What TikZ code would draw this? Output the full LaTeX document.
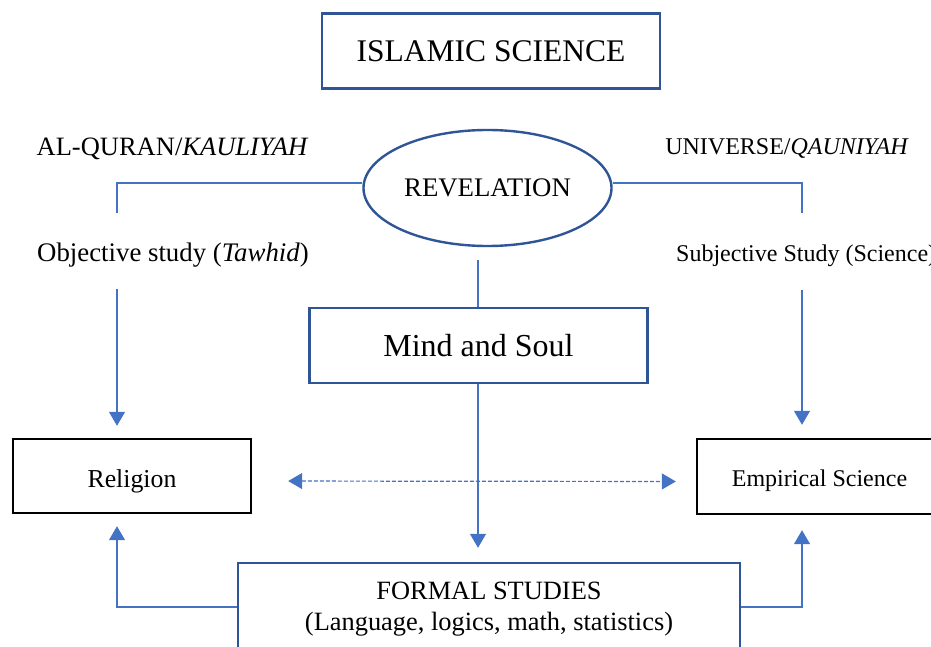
\documentclass[tikz,border=0pt]{standalone}
\usepackage{fontspec}
\setmainfont{Liberation Serif}
\usetikzlibrary{shapes.geometric,arrows.meta,calc}
\definecolor{lineblue}{HTML}{4472C4}
\definecolor{boxblue}{HTML}{2F5597}
\tikzset{
  bluebox/.style={draw=boxblue, line width=2.4pt, rectangle, inner sep=0pt, fill=white},
  blackbox/.style={draw=black, line width=2.4pt, rectangle, inner sep=0pt, fill=white},
  conn/.style={draw=lineblue, line width=1.2pt},
  tip/.style={-{Triangle[width=16pt,length=14pt]}},
  dconn/.style={draw=lineblue, line width=1.2pt, dash pattern=on 4pt off 2pt,
    {Triangle[width=16pt,length=14pt]}-{Triangle[width=16pt,length=14pt]}},
  lbl/.style={inner sep=0pt},
}
\begin{document}
\begin{tikzpicture}[x=1pt,y=-1pt]
\useasboundingbox (0,0) rectangle (931,647);
% boxes
\node[bluebox, minimum width=338pt, minimum height=75pt, font=\fontsize{31.5}{36}\selectfont] (isl) at (491,51) {ISLAMIC SCIENCE};
\node[draw=boxblue, line width=2.4pt, ellipse, inner sep=0pt, minimum width=248pt, minimum height=116pt, font=\fontsize{26.8}{31}\selectfont] (rev) at (487.5,188) {REVELATION};
\node[bluebox, minimum width=338pt, minimum height=75pt, font=\fontsize{32}{38}\selectfont] (mind) at (478.5,345.5) {Mind and Soul};
\node[blackbox, minimum width=238pt, minimum height=74pt, text height=23pt, text depth=0pt, font=\fontsize{25.8}{31}\selectfont] (rel) at (132,476) {Religion};
\node[blackbox, minimum width=245pt, minimum height=75pt, text height=20pt, text depth=0pt, font=\fontsize{24}{29}\selectfont] (emp) at (819.5,476.5) {Empirical Science};
\node[bluebox, minimum width=502pt, minimum height=110pt] (formal) at (489,618) {};
\node[inner sep=0pt, align=center, font=\fontsize{26.4}{30.5}\selectfont] (formaltxt) at (489,609) {FORMAL STUDIES\\(Language, logics, math, statistics)};
% labels
\node[lbl, anchor=base, font=\fontsize{26.5}{31}\selectfont] (alq) at (172.5,156) {AL-QURAN/\textit{KAULIYAH}};
\node[lbl, anchor=base, font=\fontsize{24}{29}\selectfont] (uni) at (787,155) {UNIVERSE/\textit{QAUNIYAH}};
\node[lbl, anchor=base west, font=\fontsize{26.8}{31}\selectfont] (obj) at (37,261) {Objective study (\textit{Tawhid})};
\node[lbl, anchor=base west, font=\fontsize{24}{29}\selectfont] (subj) at (676,261) {Subjective Study (Science)};
% free ends
\coordinate (lt) at (117,213);
\coordinate (lb) at (117,289);
\coordinate (rt) at (802,213);
\coordinate (rb) at (802,290);
\coordinate (mt) at (478,260);
% connectors
\draw[conn] ([yshift=5pt]rev.west) -| (lt);
\draw[conn] ([yshift=5pt]rev.east) -| (rt);
\draw[conn, tip, shorten >=12pt] (lb) -- (lb |- rel.north);
\draw[conn, tip, shorten >=13pt] (rb) -- (rb |- emp.north);
\draw[conn] (mt) -- (mt |- mind.north);
\draw[conn, tip, shorten >=14pt] (mind.south -| mt) -- (mt |- formal.north);
\draw[dconn, shorten <=36pt, shorten >=20pt] ([yshift=-5pt]rel.east) -- ([yshift=-5pt]emp.west);
\draw[conn, tip, shorten >=12pt] ([yshift=11pt]formal.west) -| (lb |- rel.south);
\draw[conn, tip, shorten >=15pt] ([yshift=11pt]formal.east) -| (rb |- emp.south);
\end{tikzpicture}
\end{document}
